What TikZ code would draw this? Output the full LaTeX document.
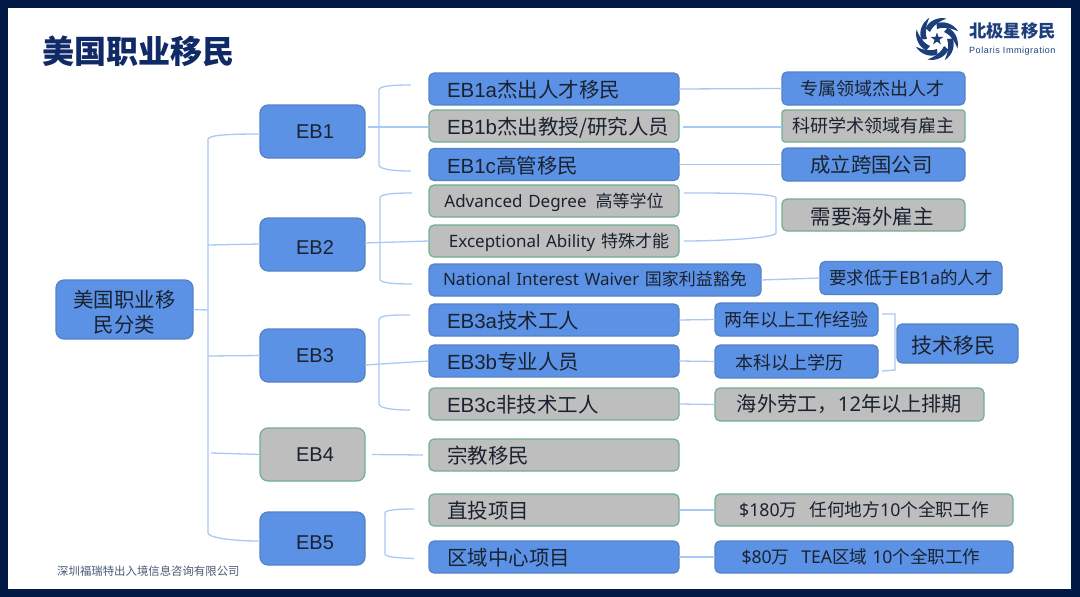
\documentclass[tikz,border=0pt]{standalone}
\usepackage{fontspec}
\setmainfont{Liberation Sans}
\newfontfamily\cjk{Noto Sans CJK SC}
\newfontfamily\lat{Noto Sans}
\newcommand\Z[1]{{\cjk #1}}
\newcommand\LL[1]{{\lat #1}}
\definecolor{frameblue}{HTML}{001A45}
\definecolor{boxblue}{HTML}{5B92E5}
\definecolor{edgeblue}{HTML}{5482C4}
\definecolor{boxgray}{HTML}{BEBEBE}
\definecolor{edgegreen}{HTML}{70B091}
\definecolor{linkblue}{HTML}{A9C9F5}
\definecolor{titleblue}{HTML}{0F2A66}
\definecolor{inkdark}{HTML}{1A2230}
\definecolor{logoblue}{HTML}{1C3F7C}
\definecolor{footgray}{HTML}{4A5A78}
\tikzset{
  basebox/.style={rounded corners=5pt,line width=1.2pt,text=inkdark,inner ysep=0pt,outer sep=0pt},
  bluebox/.style={basebox,fill=boxblue,draw=edgeblue},
  graybox/.style={basebox,fill=boxgray,draw=edgegreen},
  bigbox/.style={rounded corners=8pt,minimum width=105pt,minimum height=53pt,font=\fontsize{20}{24}\selectfont},
  midbox/.style={minimum width=250pt,minimum height=32pt,inner xsep=18pt,text width=214pt,align=left,text height=18pt,text depth=1pt,font=\fontsize{20.5}{24}\selectfont},
  thinbox/.style={midbox,inner xsep=0pt,text width=250pt,align=center,text height=13pt,text depth=0pt,font=\fontsize{17}{20}\selectfont},
  notebox/.style={inner xsep=0pt,align=center,font=\fontsize{18}{22}\selectfont},
  baseline drop/.style={text height=#1*2pt,text depth=0pt},
  lnk/.style={draw=linkblue,line width=1.3pt}
}
\begin{document}
\begin{tikzpicture}[x=1pt,y=-1pt]
\useasboundingbox (0,0) rectangle (1080,597);
\fill[frameblue] (0,0) rectangle (1080,597);
\fill[white] (8,8) rectangle (1071,589);
% title and footer
\node[anchor=west,inner sep=0pt,text=titleblue,font=\fontsize{32}{36}\selectfont\bfseries] (title) at (42,51) {\Z{美国职业移民}};
\node[anchor=west,inner sep=0pt,text=footgray,font=\fontsize{11.4}{13}\selectfont] (foot) at (57,571) {\Z{深圳福瑞特出入境信息咨询有限公司}};
% logo
\begin{scope}[shift={(937,39)}]
  \foreach \a in {0,45,90,135,180,225,270,315}{
    \fill[logoblue,rotate=\a] (0:10) .. controls (20:12.5) and (45:17) .. (70:22.5)
      .. controls (48:22.5) and (20:20) .. (-2:15.5) .. controls (-2:13.5) and (-1:12) .. (0:10) -- cycle;
  }
  \fill[logoblue] (-90:6.5)--(-54:2.6)--(-18:6.5)--(18:2.6)--(54:6.5)--(90:2.6)--(126:6.5)--(162:2.6)--(198:6.5)--(234:2.6)--cycle;
\end{scope}
\node[anchor=west,inner sep=0pt,text=logoblue,font=\fontsize{17.3}{20}\selectfont\bfseries] (logocn) at (969,31) {\Z{北极星移民}};
\node[anchor=west,inner sep=0pt,text=logoblue,font=\fontsize{9}{11}\selectfont] (logoen) at (969,51) {\addfontfeatures{LetterSpace=6}Polaris Immigration};
% root and level 1
\node[bluebox,bigbox,minimum width=137pt,minimum height=59pt,align=center,font=\fontsize{20.4}{25.5}\selectfont] (root) at (124.5,309.5) {\rule{0pt}{23pt}\Z{美国职业移}\\\Z{民分类}};
\node[bluebox,bigbox,baseline drop=6.5] (eb1) at (312.5,131.5) {\hspace{5pt}EB1};
\node[bluebox,bigbox,baseline drop=9.5] (eb2) at (312.5,244.5) {\hspace{5pt}EB2};
\node[bluebox,bigbox,baseline drop=7] (eb3) at (312.5,355.5) {\hspace{5pt}EB3};
\node[graybox,bigbox,baseline drop=7] (eb4) at (312.5,454.5) {\hspace{5pt}EB4};
\node[bluebox,bigbox,baseline drop=10.5] (eb5) at (312.5,538.5) {\hspace{5pt}EB5};
% level 2
\node[bluebox,midbox] (a1) at (554,89) {EB1a\Z{杰出人才移民}};
\node[graybox,midbox] (a2) at (554,126) {EB1b\Z{杰出教授/研究人员}};
\node[bluebox,midbox] (a3) at (554,164.5) {EB1c\Z{高管移民}};
\node[graybox,thinbox] (b1) at (554,201) {\LL{Advanced Degree}\hspace{9pt}\Z{高等学位}};
\node[graybox,thinbox] (b2) at (554,241) {\hspace{10pt}\LL{Exceptional Ability} \Z{特殊才能}};
\node[bluebox,thinbox,minimum width=332pt,text width=332pt,text height=11pt] (b3) at (595,280) {\LL{National Interest Waiver} \Z{国家利益豁免}};
\node[bluebox,midbox] (c1) at (554,320) {EB3a\Z{技术工人}};
\node[bluebox,midbox] (c2) at (554,361) {EB3b\Z{专业人员}};
\node[graybox,midbox] (c3) at (554,404) {EB3c\Z{非技术工人}};
\node[graybox,midbox] (d1) at (554,455) {\Z{宗教移民}};
\node[graybox,midbox] (e1) at (554,510) {\Z{直投项目}};
\node[bluebox,midbox] (e2) at (554,557) {\Z{区域中心项目}};
% notes
\node[bluebox,notebox,minimum width=183pt,minimum height=33pt] (n1) at (873.5,88.5) {\hspace{-2pt}\Z{专属领域杰出人才}};
\node[graybox,notebox,minimum width=183pt,minimum height=32pt,rounded corners=3pt] (n2) at (873.5,126) {\hspace{-1pt}\Z{科研学术领域有雇主}};
\node[bluebox,notebox,minimum width=183pt,minimum height=33pt,font=\fontsize{20.4}{24}\selectfont] (n3) at (873.5,164.5) {\hspace{-4pt}\Z{成立跨国公司}};
\node[graybox,notebox,minimum width=183pt,minimum height=32pt,font=\fontsize{20.5}{24}\selectfont,baseline drop=9.5] (n4) at (873.5,215) {\hspace{-3pt}\Z{需要海外雇主}};
\node[bluebox,notebox,minimum width=182pt,minimum height=33pt,font=\fontsize{17.5}{22}\selectfont] (n5) at (911,278) {\Z{要求低于}\LL{EB1a}\Z{的人才}};
\node[bluebox,notebox,minimum width=163pt,minimum height=33pt] (n6) at (796.5,319.5) {\Z{两年以上工作经验}};
\node[bluebox,notebox,minimum width=163pt,minimum height=33pt,baseline drop=8] (n7) at (796.5,361.5) {\hspace{-15pt}\Z{本科以上学历}};
\node[bluebox,notebox,minimum width=121pt,minimum height=39pt,font=\fontsize{21}{24}\selectfont,baseline drop=10] (n8) at (957.5,343.5) {\hspace{-9pt}\Z{技术移民}};
\node[graybox,notebox,minimum width=269pt,minimum height=33pt,font=\fontsize{20.2}{24}\selectfont] (n9) at (849.5,404.5) {\Z{海外劳工，}\LL{12}\Z{年以上排期}};
\node[graybox,notebox,minimum width=298pt,minimum height=32pt,font=\fontsize{17.7}{22}\selectfont] (n10) at (864,510) {\LL{\$180}\Z{万}\hspace{12pt}\Z{任何地方}\LL{10}\Z{个全职工作}};
\node[bluebox,notebox,minimum width=298pt,minimum height=32pt,font=\fontsize{17.6}{22}\selectfont] (n11) at (864,557) {\hspace{-6pt}\LL{\$80}\Z{万}\hspace{12pt}\LL{TEA}\Z{区域} \LL{10}\Z{个全职工作}};
% free ends of brackets
\coordinate (tr) at (208,310);
\coordinate (tr2) at (208,245);
\coordinate (tr3) at (208,356);
\coordinate (tr4) at (211,453);
\coordinate (b1top) at (411,85);
\coordinate (b1bot) at (411,171);
\coordinate (b2top) at (412,193);
\coordinate (b2bot) at (412,284);
\coordinate (b3top) at (410,315);
\coordinate (b3bot) at (410,410);
\coordinate (b5top) at (414,509);
\coordinate (b5bot) at (414,558.5);
\coordinate (r1) at (684,193);
\coordinate (r2) at (684,241);
\coordinate (s1) at (882,314);
\coordinate (s2) at (882,371);
% connectors
\draw[lnk] (root.east) -- (tr);
\draw[lnk] ([yshift=-2.5pt]eb1.west) .. controls (228,134) and (208,135) .. (208,139.5) -- (208,533) .. controls (208,537) and (228,541) .. ([yshift=-2.5pt]eb5.west);
\draw[lnk] (tr2) -- ([yshift=0.5pt]eb2.west);
\draw[lnk] (tr3) -- (eb3.west);
\draw[lnk] (tr4) -- (eb4.west);
\draw[lnk] ([shift={(3,-4.5)}]eb1.east) -- ([yshift=-1pt]a2.west);
\draw[lnk] (b1top) .. controls (392,85) and (379,86) .. (379,90) -- (379,165) .. controls (379,169) and (392,171) .. (b1bot);
\draw[lnk] (eb2.east) ++(0,-1.5) -- (b2.west);
\draw[lnk] (b2top) .. controls (393,193) and (380,194) .. (380,198) -- (380,279) .. controls (380,283) and (393,284) .. (b2bot);
\draw[lnk] ([yshift=-9.5pt]eb3.east) -- (c2.west);
\draw[lnk] (b3top) .. controls (392,315) and (379,315) .. (379,320) -- (379,404) .. controls (379,408) and (392,410) .. (b3bot);
\draw[lnk] ([xshift=7pt]eb4.east) -- ([xshift=-6pt]d1.west);
\draw[lnk] (b5top) .. controls (398,509) and (385,510) .. (385,513) -- (385,554) .. controls (385,557) and (398,558) .. (b5bot);
\draw[lnk] (a1.east) -- (n1.west);
\draw[lnk] ([xshift=4pt,yshift=-1pt]a2.east) -- ([yshift=-1pt]n2.west);
\draw[lnk] (a3.east) -- (n3.west);
\draw[lnk] (r1) .. controls (720,193) and (776,193) .. (776,198) -- (776,233) .. controls (776,238) and (720,241) .. (r2);
\draw[lnk] (b3.east) -- (n5.west);
\draw[lnk] (c1.east) -- (n6.west);
\draw[lnk] (c2.east) -- (n7.west);
\draw[lnk] (c3.east) -- (n9.west);
\draw[lnk] (e1.east) -- (n10.west);
\draw[lnk] (e2.east) -- (n11.west);
\draw[lnk] (s1) -- (895,314) -- (895,370) -- (s2);
\end{tikzpicture}
\end{document}
